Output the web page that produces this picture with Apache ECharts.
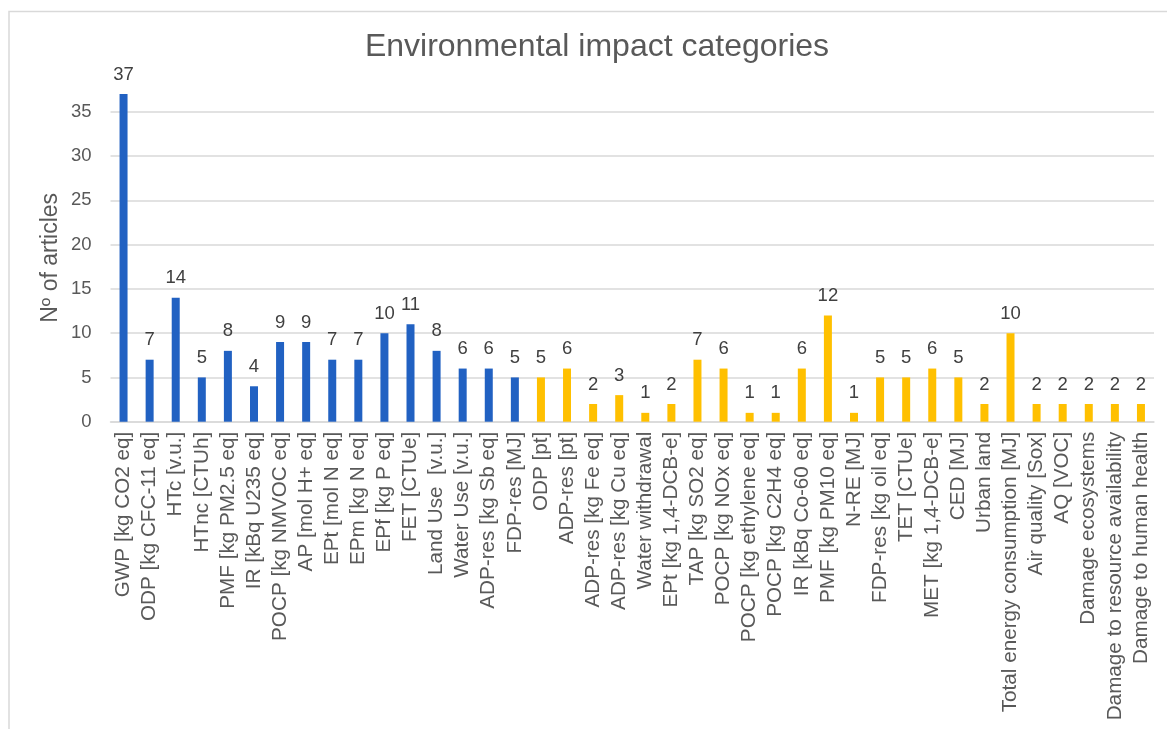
<!DOCTYPE html>
<html>
<head>
<meta charset="utf-8">
<title>Environmental impact categories</title>
<script src="https://cdn.jsdelivr.net/npm/echarts@6/dist/echarts.min.js"></script>
<style>
  html, body { margin: 0; padding: 0; background: #ffffff; }
  #chart { width: 1167px; height: 729px; }
</style>
</head>
<body>
<div id="chart"></div>
<script>
// Impact categories, in the order they appear on the axis
const categories = [
  'GWP [kg CO2 eq]', 'ODP [kg CFC-11 eq]', 'HTc [v.u.]', 'HTnc [CTUh]',
  'PMF [kg PM2.5 eq]', 'IR [kBq U235 eq]', 'POCP [kg NMVOC eq]', 'AP [mol H+ eq]',
  'EPt [mol N eq]', 'EPm [kg N eq]', 'EPf [kg P eq]', 'FET [CTUe]',
  'Land Use  [v.u.]', 'Water Use [v.u.]', 'ADP-res [kg Sb eq]', 'FDP-res [MJ]',
  'ODP [pt]', 'ADP-res [pt]', 'ADP-res [kg Fe eq]', 'ADP-res [kg Cu eq]',
  'Water withdrawal', 'EPt [kg 1,4-DCB-e]', 'TAP [kg SO2 eq]', 'POCP [kg NOx eq]',
  'POCP [kg ethylene eq]', 'POCP [kg C2H4 eq]', 'IR [kBq Co-60 eq]', 'PMF [kg PM10 eq]',
  'N-RE [MJ]', 'FDP-res [kg oil eq]', 'TET [CTUe]', 'MET [kg 1,4-DCB-e]',
  'CED [MJ]', 'Urban land', 'Total energy consumption [MJ]', 'Air quality [Sox]',
  'AQ [VOC]', 'Damage ecosystems', 'Damage to resource availability', 'Damage to human health'
];

// Number of articles per category
const articles = [
  37, 7, 14, 5, 8, 4, 9, 9, 7, 7, 10, 11, 8, 6, 6, 5,
  5, 6, 2, 3, 1, 2, 7, 6, 1, 1, 6, 12, 1, 5, 5, 6, 5, 2, 10, 2, 2, 2, 2, 2
];

// Which group each category belongs to (first group blue, second group amber)
const groups = [
  'A', 'A', 'A', 'A', 'A', 'A', 'A', 'A', 'A', 'A', 'A', 'A', 'A', 'A', 'A', 'A',
  'B', 'B', 'B', 'B', 'B', 'B', 'B', 'B', 'B', 'B', 'B', 'B', 'B', 'B', 'B', 'B',
  'B', 'B', 'B', 'B', 'B', 'B', 'B', 'B'
];

// Value-axis ticks
const yTicks = [0, 5, 10, 15, 20, 25, 30, 35];

const groupColors = { A: '#2161c2', B: '#ffc000' };
const FONT = '"Liberation Sans", Arial, sans-serif';
const TEXT = '#595959';
const GRID_LINE = '#d9d9d9';

// Plot geometry: the gridded axis stops at the last tick, the bars' axis
// runs up to the largest value on the same pixel scale.
const zeroY = 421.7;
const tickTopY = 111.7;
const tickMax = yTicks[yTicks.length - 1];
const pxPerUnit = (zeroY - tickTopY) / tickMax;
const dataMax = Math.max.apply(null, articles);
const gridLeft = 110.5;
const gridRight = 13;
const gridBottom = 729 - zeroY;

const chart = echarts.init(document.getElementById('chart'), null, { renderer: 'canvas' });

chart.setOption({
  backgroundColor: '#ffffff',
  animation: false,
  textStyle: { fontFamily: FONT },
  graphic: [{
    type: 'rect',
    silent: true,
    shape: { x: 9, y: 11.5, width: 1200, height: 800 },
    style: { fill: 'none', stroke: GRID_LINE, lineWidth: 1.5 },
    z: -10
  }],
  title: {
    text: 'Environmental impact categories',
    left: 592,
    top: 26,
    textAlign: 'center',
    textStyle: { fontFamily: FONT, fontSize: 32, fontWeight: 'normal', color: TEXT }
  },
  grid: [
    { left: gridLeft, right: gridRight, bottom: gridBottom, top: zeroY - dataMax * pxPerUnit },
    { left: gridLeft, right: gridRight, bottom: gridBottom, top: tickTopY }
  ],
  xAxis: [
    {
      type: 'category',
      gridIndex: 0,
      data: categories,
      axisLine: { show: true, lineStyle: { color: GRID_LINE, width: 1.5 } },
      axisTick: { show: false },
      axisLabel: {
        interval: 0,
        rotate: 90,
        margin: 10,
        fontFamily: FONT,
        fontSize: 20.7,
        color: TEXT
      }
    },
    {
      type: 'category',
      gridIndex: 1,
      data: categories,
      show: false
    }
  ],
  yAxis: [
    {
      type: 'value',
      gridIndex: 0,
      min: 0,
      max: dataMax,
      name: 'Nº of articles',
      nameLocation: 'middle',
      nameGap: 48,
      nameTextStyle: { fontFamily: FONT, fontSize: 23, color: TEXT },
      axisLine: { show: false },
      axisTick: { show: false },
      axisLabel: { show: false },
      splitLine: { show: false }
    },
    {
      type: 'value',
      gridIndex: 1,
      min: yTicks[0],
      max: tickMax,
      interval: yTicks[1] - yTicks[0],
      axisLine: { show: false },
      axisTick: { show: false },
      axisLabel: { margin: 19, fontFamily: FONT, fontSize: 18.5, color: TEXT },
      splitLine: { show: true, lineStyle: { color: GRID_LINE, width: 1.5 } }
    }
  ],
  series: [{
    type: 'bar',
    xAxisIndex: 0,
    yAxisIndex: 0,
    barWidth: 8,
    z: 5,
    data: articles.map(function (v, i) {
      return { value: v, itemStyle: { color: groupColors[groups[i]] } };
    }),
    label: {
      show: true,
      position: 'top',
      distance: 10,
      fontFamily: FONT,
      fontSize: 18.5,
      color: '#404040'
    }
  }]
});
</script>
</body>
</html>
